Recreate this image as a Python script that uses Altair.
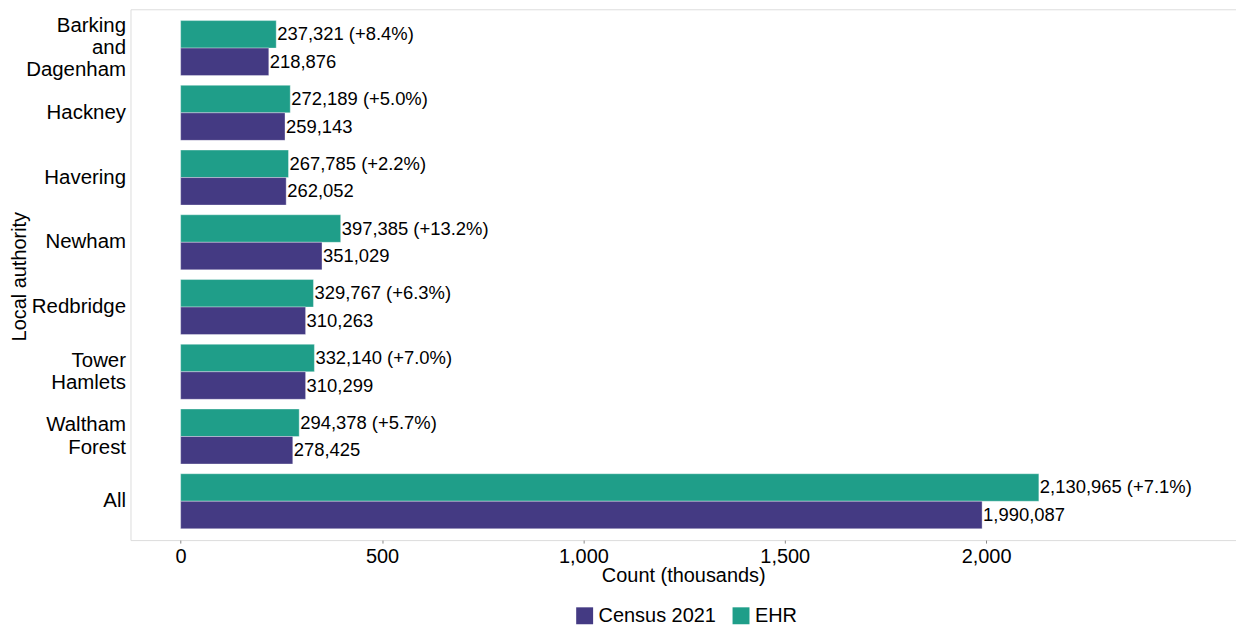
import altair as alt
import pandas as pd

authorities = ["Barking and Dagenham", "Hackney", "Havering", "Newham",
               "Redbridge", "Tower Hamlets", "Waltham Forest", "All"]
census = [218876, 259143, 262052, 351029, 310263, 310299, 278425, 1990087]
ehr = [237321, 272189, 267785, 397385, 329767, 332140, 294378, 2130965]
pct = ["+8.4%", "+5.0%", "+2.2%", "+13.2%", "+6.3%", "+7.0%", "+5.7%", "+7.1%"]
x_ticks = [0, 500, 1000, 1500, 2000]
sources = ["Census 2021", "EHR"]
colors = ["#443A83", "#1F9E89"]

rows = []
for la, c, e, p in zip(authorities, census, ehr, pct):
    rows.append({"LA": la, "Source": "EHR", "Value": e / 1000,
                 "Label": f"{e:,} ({p})"})
    rows.append({"LA": la, "Source": "Census 2021", "Value": c / 1000,
                 "Label": f"{c:,}"})
df = pd.DataFrame(rows)

FONT = "Liberation Sans"
LH = 22.5

y_enc = alt.Y("LA:N", sort=authorities, title="Local authority",
              scale=alt.Scale(paddingInner=0.15, paddingOuter=0.175),
              axis=alt.Axis(labelExpr="split(datum.label, ' ')",
                            labelFontSize=20.5, labelLineHeight=LH,
                            labelColor="black", labelPadding=5,
                            labelOffset={
                                "condition": [
                                    {"test": "split(datum.label, ' ').length == 3",
                                     "value": -LH},
                                    {"test": "split(datum.label, ' ').length == 2",
                                     "value": -LH / 2},
                                ],
                                "value": 0},
                            ticks=False, tickSize=0, domain=False,
                            titleFontSize=20, titleFontWeight="normal",
                            titleColor="black", titleX=-101, titleY=268,
                            titleAngle=270, titleBaseline="bottom",
                            titleAlign="center"))
yoff = alt.YOffset("Source:N", sort=["EHR", "Census 2021"],
                   scale=alt.Scale(paddingInner=0, paddingOuter=0))
x_scale = alt.Scale(domain=[-124.5, 2620.5], nice=False, zero=False)

bars = alt.Chart(df).mark_bar(stroke="white", strokeWidth=0.6,
                              strokeOpacity=0.6).encode(
    y=y_enc,
    yOffset=yoff,
    x=alt.X("Value:Q", scale=x_scale, title="Count (thousands)",
            axis=alt.Axis(values=x_ticks, format=",.0f", grid=False,
                          domain=False, ticks=True, tickSize=3,
                          tickColor="#888888", labelFontSize=20,
                          labelColor="black", labelPadding=3,
                          titleFontSize=20, titleFontWeight="normal",
                          titleColor="black", titlePadding=0)),
    x2=alt.datum(0),
    color=alt.Color("Source:N",
                    scale=alt.Scale(domain=sources, range=colors),
                    legend=alt.Legend(title=None, orient="none",
                                      direction="horizontal",
                                      legendX=446, legendY=599,
                                      symbolType="square", symbolSize=289,
                                      symbolStrokeWidth=0, labelFontSize=20,
                                      labelColor="black", labelOffset=4,
                                      columnPadding=15)),
)

labels = alt.Chart(df).mark_text(align="left", baseline="middle", dx=1,
                                 fontSize=18.5, font=FONT,
                                 color="black").encode(
    y=alt.Y("LA:N", sort=authorities),
    yOffset=alt.YOffset("Source:N", sort=["EHR", "Census 2021"]),
    x=alt.X("Value:Q", scale=x_scale),
    text="Label:N",
)

chart = alt.layer(bars, labels).properties(
    width=1110, height=533,
    autosize=alt.AutoSizeParams(type="none"),
    padding={"left": 123, "top": 0, "right": 0, "bottom": 87},
).configure_view(
    stroke="#999999", strokeWidth=1
).configure(font=FONT)

chart.save("out.html", embed_options={"renderer": "svg", "actions": False})
